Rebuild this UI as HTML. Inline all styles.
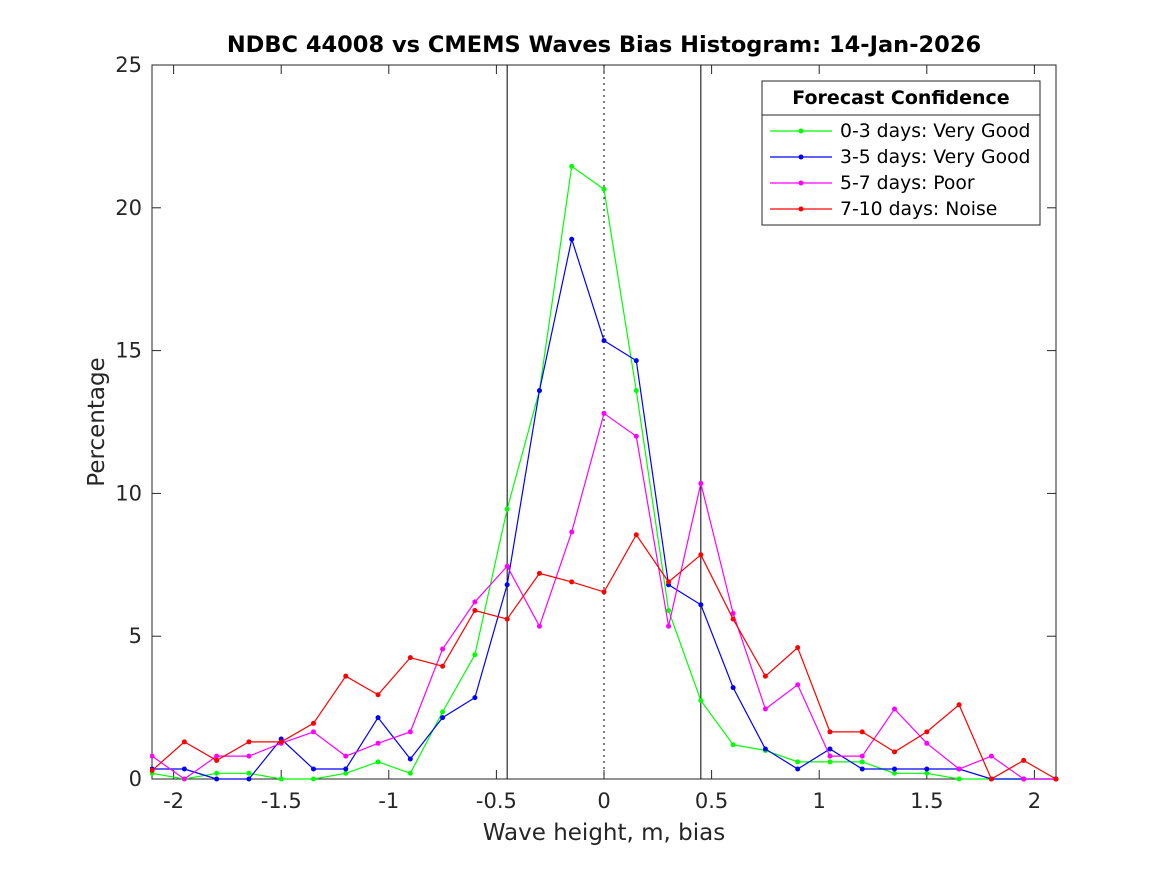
<!DOCTYPE html>
<html><head><meta charset="utf-8"><style>
body{margin:0;background:#fff}
svg{font-family:"DejaVu Sans","Liberation Sans",sans-serif}
</style></head><body>
<svg id="c" width="1167" height="875">
<rect width="1167" height="875" fill="#fff"/>
<defs><clipPath id="clip"><rect x="150" y="63" width="910" height="720"/></clipPath></defs>
<text x="604" y="52" text-anchor="middle" font-size="22.5" font-weight="bold" fill="#000">NDBC 44008 vs CMEMS Waves Bias Histogram: 14-Jan-2026</text>
<g id="axes"></g>
<g id="series" clip-path="url(#clip)"></g>
<text x="604" y="840" text-anchor="middle" font-size="23" fill="#262626">Wave height, m, bias</text>
<text transform="translate(104,422) rotate(-90)" text-anchor="middle" font-size="23" fill="#262626">Percentage</text>
<g id="legend"></g>
</svg>
<script>
const xs=[-2.1,-1.95,-1.8,-1.65,-1.5,-1.35,-1.2,-1.05,-0.9,-0.75,-0.6,-0.45,-0.3,-0.15,0,0.15,0.3,0.45,0.6,0.75,0.9,1.05,1.2,1.35,1.5,1.65,1.8,1.95,2.1];
const green=[0.2,0,0.2,0.2,0,0,0.2,0.6,0.2,2.35,4.35,9.45,13.6,21.45,20.65,13.6,5.9,2.75,1.2,1.0,0.6,0.6,0.6,0.2,0.2,0,0,0,0];
const blue=[0.35,0.35,0,0,1.4,0.35,0.35,2.15,0.7,2.15,2.85,6.8,13.6,18.9,15.35,14.65,6.8,6.1,3.2,1.05,0.35,1.05,0.35,0.35,0.35,0.35,0,0,0];
const magenta=[0.8,0,0.8,0.8,1.25,1.65,0.8,1.25,1.65,4.55,6.2,7.45,5.35,8.65,12.8,12.0,5.35,10.35,5.8,2.45,3.3,0.8,0.8,2.45,1.25,0.35,0.8,0,0];
const red=[0.3,1.3,0.65,1.3,1.3,1.95,3.6,2.95,4.25,3.95,5.9,5.6,7.2,6.9,6.55,8.55,6.9,7.85,5.6,3.6,4.6,1.65,1.65,0.95,1.65,2.6,0,0.65,0];
const xTicks=[-2,-1.5,-1,-0.5,0,0.5,1,1.5,2];
const xTickLabels=["-2","-1.5","-1","-0.5","0","0.5","1","1.5","2"];
const yTicks=[0,5,10,15,20,25];
const legendLabels=["0-3 days: Very Good","3-5 days: Very Good","5-7 days: Poor","7-10 days: Noise"];
const colors=["#00ff00","#0000ff","#ff00ff","#ff0000"];
const X=v=>604+v*215.2, Y=v=>779-v*28.56;
const NS="http://www.w3.org/2000/svg";
function mk(t,a,p){const e=document.createElementNS(NS,t);for(const k in a)e.setAttribute(k,a[k]);p.appendChild(e);return e;}
const ax=document.getElementById('axes');
const box=mk('rect',{x:152,y:65,width:904,height:714,fill:'none',stroke:'#262626','stroke-width':1},ax);


xTicks.forEach((t,i)=>{const x=X(t);
 mk('line',{x1:x,y1:779,x2:x,y2:770,stroke:'#262626'},ax);
 mk('line',{x1:x,y1:65,x2:x,y2:74,stroke:'#262626'},ax);
 const tx=mk('text',{x:x,y:808,'text-anchor':'middle','font-size':21,fill:'#262626'},ax);tx.textContent=xTickLabels[i];
 
 
});
yTicks.forEach(t=>{const y=Y(t);
 mk('line',{x1:152,y1:y,x2:161,y2:y,stroke:'#262626'},ax);
 mk('line',{x1:1056,y1:y,x2:1047,y2:y,stroke:'#262626'},ax);
 const tx=mk('text',{x:142,y:y+7,'text-anchor':'end','font-size':21,fill:'#262626'},ax);tx.textContent=t;
 
 
});
const sg=document.getElementById('series');
[[-0.45,''],[0.45,''],[0,'2,4']].forEach(([v,d])=>{const l=mk('line',{x1:X(v),y1:65,x2:X(v),y2:779,stroke:'#000','stroke-dasharray':d},sg);
 
 });
[green,blue,magenta,red].forEach((s,k)=>{
 const pl=mk('polyline',{points:s.map((v,i)=>X(xs[i])+','+Y(v)).join(' '),fill:'none',stroke:colors[k],'stroke-width':1.2},sg);
 
 
 s.forEach((v,i)=>{const c=mk('circle',{cx:X(xs[i]),cy:Y(v),r:2.5,fill:colors[k]},sg);
  
  });
});
const lg=document.getElementById('legend');


mk('rect',{x:762,y:81,width:278,height:144,fill:'#fff',stroke:'#262626'},lg);
mk('line',{x1:762,y1:115,x2:1040,y2:115,stroke:'#262626'},lg);
const lt=mk('text',{x:901,y:104,'text-anchor':'middle','font-size':19,'font-weight':'bold',fill:'#000'},lg);lt.textContent="Forecast Confidence";
legendLabels.forEach((t,k)=>{const y=131+k*26;
 mk('line',{x1:770,y1:y,x2:832,y2:y,stroke:colors[k],'stroke-width':1.2},lg);
 mk('circle',{cx:801,cy:y,r:2.5,fill:colors[k]},lg);
 const tx=mk('text',{x:840,y:y+6,'font-size':18.8,fill:'#000'},lg);tx.textContent=t;
 
 
});
</script>
</body></html>
